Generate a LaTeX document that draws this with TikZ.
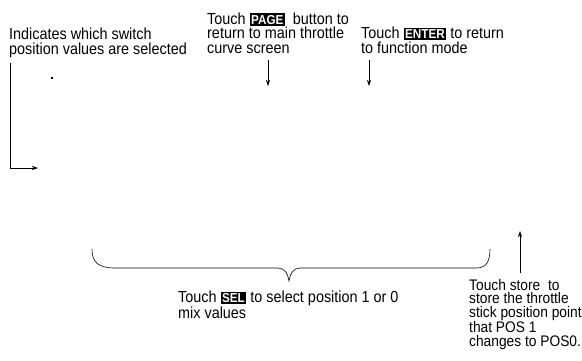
\documentclass[tikz,border=0pt]{standalone}
\usepackage{fontspec}
\setmainfont{Liberation Sans}[FakeStretch=0.9]
\usetikzlibrary{arrows.meta}
\newcommand{\keycap}[1]{{\setlength{\fboxsep}{1.5pt}\colorbox{black}{\textcolor{white}{\bfseries\fontsize{13}{13}\selectfont #1}}}}
\tikzset{
  note/.style={anchor=base west, align=left, inner sep=0pt, font=\fontsize{16}{14.5}\selectfont},
  pointer/.style={-{Stealth[length=6pt,width=4pt]}, line width=0.6pt},
}
\begin{document}
\begin{tikzpicture}[x=1pt, y=-1pt]
    \useasboundingbox (0,0) rectangle (582,360);
    % base = ultima linha
    \node[note] (selnote) at (9,54) {Indicates which switch\\position values are selected}; % Posicao
    \node[note] (pagenote) at (207,53) {Touch \keycap{PAGE}\ \ button to\\return to main throttle\\curve screen};
    \node[note] (enternote) at (361,53) {Touch \keycap{ENTER} to return\\to function mode};
    \node[note] (mixnote) at (178,318) {Touch \keycap{SEL} to select position 1 or 0\\mix values};
    \node[note, font=\fontsize{15.3}{13.4}\selectfont] (storenote) at (469,346) {Touch store\ \ to\\store the throttle\\stick position point\\that POS 1\\changes to POS0.};
    \fill (51.2,77.2) rectangle (52.8,78.8); % Ponto
    % setas
    \coordinate (lTop) at (10,63);
    \coordinate (lEnd) at (38,168);
    \draw[pointer] (lTop) |- (lEnd);
    \coordinate (pageA) at (268,60);
    \coordinate (pageB) at (268,86);
    \draw[pointer] (pageA) -- (pageB);
    \coordinate (enterA) at (369,60);
    \coordinate (enterB) at (369,86);
    \draw[pointer] (enterA) -- (enterB);
    \coordinate (storeA) at (520,273);
    \coordinate (storeB) at (520,231);
    \draw[pointer] (storeA) -- (storeB);
    % chave
    \draw[line width=0.6pt] (92,249) .. controls (92,262) and (98,268) .. (115,268) -- (278,268)
        .. controls (285,268) and (288,274) .. (289,281) .. controls (290,274) and (293,268) .. (300,268)
        -- (476,268) .. controls (486,268) and (490,262) .. (490,249);
\end{tikzpicture}
\end{document}
